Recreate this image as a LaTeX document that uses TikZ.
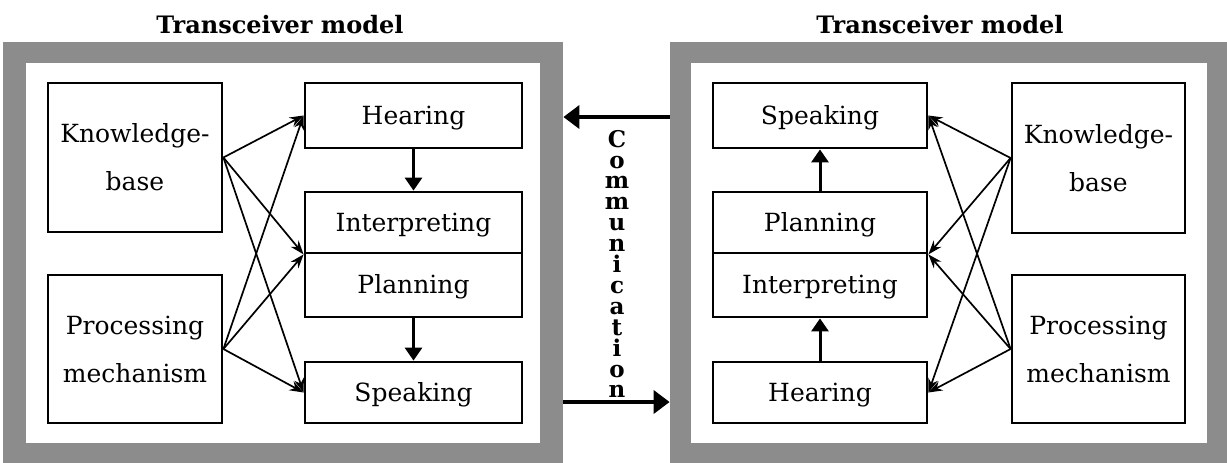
\documentclass[tikz,border=0pt]{standalone}
\usepackage{fontspec}
\setmainfont{DejaVu Serif}
\usetikzlibrary{arrows.meta}
\begin{document}
\begin{tikzpicture}[x=0.5pt,y=-0.5pt,
  box/.style={draw,line width=1.4pt,inner sep=0pt,align=center,
    font=\fontsize{12.5}{24}\selectfont},
  onebox/.style={box,text height=8.8pt,text depth=0pt},
  twobox/.style={box,execute at begin node={\rule{0pt}{13pt}}},
  link/.style={-{Stealth[length=7pt,width=5pt]},line width=0.85pt},
  flow/.style={-{Triangle[length=6.5pt,width=8.5pt]},line width=1.5pt},
  comm/.style={-{Triangle[length=8pt,width=11.5pt]},line width=1.9pt},
  band/.style={fill=black!45,draw=none,inner sep=0pt},
  pane/.style={fill=white,draw=none,inner sep=0pt},
  heading/.style={font=\fontsize{12}{14}\selectfont\bfseries,inner sep=0pt}]
\useasboundingbox (0,0) rectangle (1227,462);

% gray frames of the two transceivers
\node[band,minimum width=280pt,minimum height=210.5pt] (frameL) at (283,252.5) {};
\node[pane,minimum width=257pt,minimum height=190pt] (paneL) at (283,253) {};
\node[band,minimum width=280pt,minimum height=210.5pt] (frameR) at (950,252.5) {};
\node[pane,minimum width=258pt,minimum height=190pt] (paneR) at (949,253) {};

\node[heading] (titleL) at (280,25) {Transceiver model};
\node[heading] (titleR) at (940,25) {Transceiver model};

% left transceiver
\node[twobox,minimum width=87pt,minimum height=74.5pt] (kbL) at (135,157.5) {Knowledge-\\base};
\node[twobox,minimum width=87pt,minimum height=74pt] (pmL) at (135,349) {Processing\\mechanism};
\node[onebox,minimum width=108.5pt,minimum height=32.5pt] (hearL) at (413.5,115.5) {Hearing};
\node[onebox,minimum width=108.5pt,minimum height=30.5pt] (intL) at (413.5,222.5) {Interpreting};
\node[onebox,minimum width=108.5pt,minimum height=32pt] (planL) at (413.5,285) {Planning};
\node[onebox,minimum width=108.5pt,minimum height=30.5pt] (spkL) at (413.5,392.5) {Speaking};

\draw[flow] (hearL) -- (intL);
\draw[flow] (planL) -- (spkL);
\foreach \s in {kbL,pmL}{
  \draw[link] (\s.east) -- (hearL.west);
  \draw[link] (\s.east) -- (intL.south west);
  \draw[link] (\s.east) -- (spkL.west);
}

% right transceiver
\node[onebox,minimum width=107pt,minimum height=32.5pt] (spkR) at (820,115.5) {Speaking};
\node[onebox,minimum width=107pt,minimum height=30.5pt] (planR) at (820,222.5) {Planning};
\node[onebox,minimum width=107pt,minimum height=32pt] (intR) at (820,285) {Interpreting};
\node[onebox,minimum width=107pt,minimum height=30.5pt] (hearR) at (820,392.5) {Hearing};
\node[twobox,minimum width=86.5pt,minimum height=75pt] (kbR) at (1098.5,158) {Knowledge-\\base};
\node[twobox,minimum width=86.5pt,minimum height=74pt] (pmR) at (1098.5,349) {Processing\\mechanism};

\draw[flow] (hearR) -- (intR);
\draw[flow] (planR) -- (spkR);
\foreach \s in {kbR,pmR}{
  \draw[link] (\s.west) -- (spkR.east);
  \draw[link] (\s.west) -- (planR.south east);
  \draw[link] (\s.west) -- (hearR.east);
}

% communication channel between the two frames
\coordinate (commTop) at (0,117);
\coordinate (commBot) at (0,402);
\draw[comm] (frameR.west |- commTop) -- (frameL.east |- commTop);
\draw[comm] (frameL.east |- commBot) -- (frameR.west |- commBot);
\node[align=center,inner sep=0pt,font=\fontsize{11.5}{10.45}\selectfont\bfseries]
  (commText) at (617,264) {C\\o\\m\\m\\u\\n\\i\\c\\a\\t\\i\\o\\n};
\end{tikzpicture}
\end{document}
